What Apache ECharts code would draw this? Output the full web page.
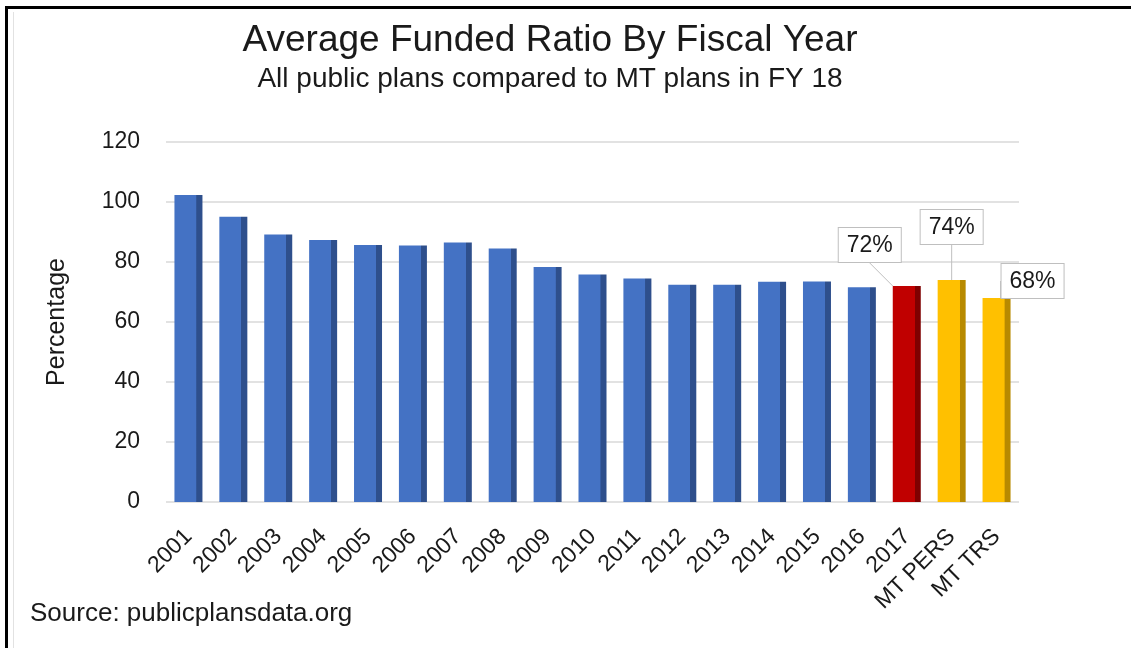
<!DOCTYPE html>
<html>
<head>
<meta charset="utf-8">
<script src="https://cdn.jsdelivr.net/npm/echarts@6/dist/echarts.min.js"></script>
<style>
  html, body { margin: 0; padding: 0; background: #fff; }
  #chart { width: 1131px; height: 648px; position: relative; }
  #frame { position: absolute; left: 5px; top: 6px; right: 0; bottom: 0;
           border-top: 3px solid #000; border-left: 3px solid #000; pointer-events: none; }
  #inner { position: absolute; left: 13px; top: 12px; width: 0; bottom: 0;
           border-left: 1px solid #e2e2e2; pointer-events: none; }
</style>
</head>
<body>
<div id="chart"></div>
<div id="frame"></div>
<div id="inner"></div>
<script>
const categories = ['2001','2002','2003','2004','2005','2006','2007','2008','2009','2010',
                    '2011','2012','2013','2014','2015','2016','2017','MT PERS','MT TRS'];
const fundedRatio = [102.3, 95.1, 89.2, 87.3, 85.7, 85.5, 86.5, 84.5, 78.3, 75.8,
                     74.5, 72.4, 72.4, 73.4, 73.5, 71.6, 72, 74, 68];
const calloutNames = ['2017', 'MT PERS', 'MT TRS'];
const yTicks = { min: 0, max: 120, step: 20 };

const titleText = 'Average Funded Ratio By Fiscal Year';
const subtitleText = 'All public plans compared to MT plans in FY 18';
const sourceText = 'Source: publicplansdata.org';
const yAxisTitle = 'Percentage';

function bar3d(main, side) {
  return {
    type: 'linear', x: 0, y: 0, x2: 1, y2: 0,
    colorStops: [
      { offset: 0, color: main },
      { offset: 0.78, color: main },
      { offset: 0.79, color: side },
      { offset: 1, color: side }
    ]
  };
}
const blue = bar3d('#4472C4', '#2E4F8C');
const red = bar3d('#C00000', '#7E0000');
const gold = bar3d('#FFC000', '#B88A00');

const font = '"Liberation Sans", Arial, sans-serif';

const chart = echarts.init(document.getElementById('chart'), null, { renderer: 'canvas' });

const calloutOffsets = { '2017': [-37, -18], 'MT PERS': [0, -30], 'MT TRS': [36, 6] };

chart.setOption({
  animation: false,
  backgroundColor: '#fff',
  textStyle: { fontFamily: font },
  graphic: [
    { type: 'text', x: 550, y: 41, style: { text: titleText, font: '37px ' + font, fill: '#1a1a1a', textAlign: 'center', textVerticalAlign: 'middle' } },
    { type: 'text', x: 550, y: 79, style: { text: subtitleText, font: '28px ' + font, fill: '#1a1a1a', textAlign: 'center', textVerticalAlign: 'middle' } },
    { type: 'text', x: 30, y: 614, style: { text: sourceText, font: '26px ' + font, fill: '#1a1a1a', textAlign: 'left', textVerticalAlign: 'middle' } }
  ],
  grid: { left: 166, right: 112, top: 142, bottom: 146 },
  xAxis: {
    type: 'category',
    data: categories,
    axisLine: { show: false },
    axisTick: { show: false },
    axisLabel: { rotate: 45, fontSize: 23, color: '#1a1a1a', margin: 31, interval: 0, fontFamily: font }
  },
  yAxis: {
    type: 'value',
    min: yTicks.min, max: yTicks.max, interval: yTicks.step,
    name: yAxisTitle,
    nameLocation: 'middle',
    nameGap: 96,
    nameTextStyle: { fontSize: 25, color: '#1a1a1a', fontFamily: font },
    axisLine: { show: false },
    axisTick: { show: false },
    axisLabel: { fontSize: 23, color: '#1a1a1a', margin: 26, fontFamily: font },
    splitLine: { lineStyle: { color: '#d9d9d9', width: 1.5 } }
  },
  series: [{
    type: 'bar',
    barWidth: 28,
    data: fundedRatio.map((v, i) => ({
      value: v,
      label: { show: calloutNames.indexOf(categories[i]) >= 0 }
    })),
    itemStyle: {
      color: (p) => p.name === '2017' ? red : (p.name.indexOf('MT') === 0 ? gold : blue)
    },
    label: {
      position: 'top',
      distance: 6,
      formatter: (p) => Math.round(p.value) + '%',
      fontSize: 23,
      color: '#1a1a1a',
      fontFamily: font,
      backgroundColor: '#fff',
      borderColor: '#bfbfbf',
      borderWidth: 1,
      padding: [6, 8, 5, 8]
    },
    labelLine: { show: true, lineStyle: { color: '#bfbfbf', width: 1 } },
    labelLayout: (p) => {
      const o = calloutOffsets[categories[p.dataIndex]] || [0, 0];
      return { dx: o[0], dy: o[1] };
    }
  }]
});
</script>
</body>
</html>
